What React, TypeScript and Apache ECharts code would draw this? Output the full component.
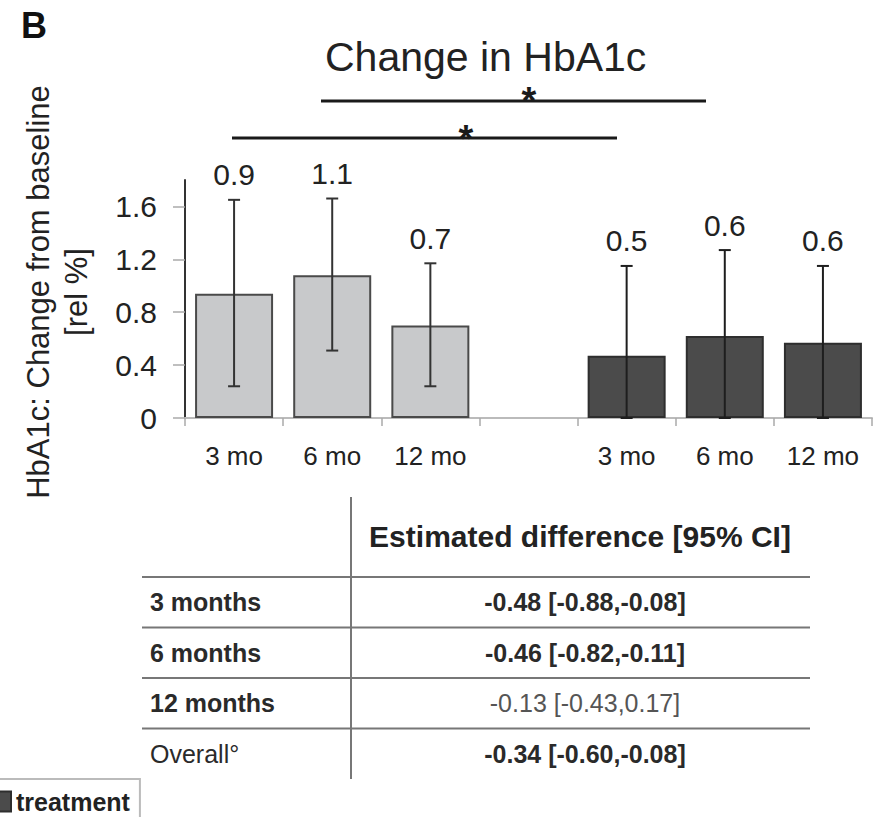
import React, { useEffect, useRef } from 'react';
import * as echarts from 'echarts';

const categories = ['3 mo', '6 mo', '12 mo', '', '3 mo', '6 mo', '12 mo'];
const controlMeans = [0.94, 1.08, 0.7];
const controlUpper = [1.65, 1.66, 1.17];
const controlLower = [0.24, 0.51, 0.24];
const treatmentMeans = [0.47, 0.62, 0.57];
const treatmentUpper = [1.15, 1.27, 1.15];
const treatmentLower = [0, 0, 0];
const yTicks = [0, 0.4, 0.8, 1.2, 1.6];
const chartTitle = 'Change in HbA1c';
const yNameLines = ['HbA1c: Change from baseline', '[rel %]'];
const panelLabel = 'B';
const significanceMarks = ['*', '*'];
const tableHeader = 'Estimated difference [95% CI]';
const tableRowLabels = ['3 months', '6 months', '12 months', 'Overall°'];
const tableValues = ['-0.48 [-0.88,-0.08]', '-0.46 [-0.82,-0.11]', '-0.13 [-0.43,0.17]', '-0.34 [-0.60,-0.08]'];
const tableSignificant = [true, true, false, true];
const tableRowLabelBold = [true, true, true, false];

const FONT = '"Liberation Sans", Arial, Helvetica, sans-serif';

export default function App() {
  const ref = useRef<HTMLDivElement>(null);

  useEffect(() => {
    if (!ref.current) return;
    const chart = echarts.init(ref.current, undefined, { renderer: 'svg' });

    const controlIdx = [0, 1, 2];
    const treatIdx = [4, 5, 6];
    const controlData: any[] = categories.map(() => '-');
    const treatData: any[] = categories.map(() => '-');
    controlIdx.forEach((ci, i) => (controlData[ci] = controlMeans[i]));
    treatIdx.forEach((ci, i) => (treatData[ci] = treatmentMeans[i]));

    const errData: any[] = [];
    controlIdx.forEach((ci, i) => errData.push([ci, controlLower[i], controlUpper[i], controlMeans[i], 0]));
    treatIdx.forEach((ci, i) => errData.push([ci, treatmentLower[i], treatmentUpper[i], treatmentMeans[i], 1]));

    // table geometry
    const tLeft = 142, tRight = 810, tVert = 351;
    const headerTop = 497, headerBottom = 577, rowH = 50.5;
    const graphics: any[] = [];
    graphics.push({
      type: 'text', x: 21, y: 25,
      style: { text: panelLabel, font: `bold 36px ${FONT}`, fill: '#111', align: 'left', verticalAlign: 'middle' },
    });
    graphics.push({
      type: 'text', x: 38, y: 292, rotation: Math.PI / 2,
      style: { text: yNameLines[0], font: `31px ${FONT}`, fill: '#222', align: 'center', verticalAlign: 'middle' },
    });
    graphics.push({
      type: 'text', x: 76, y: 292, rotation: Math.PI / 2,
      style: { text: yNameLines[1], font: `31px ${FONT}`, fill: '#222', align: 'center', verticalAlign: 'middle' },
    });
    // significance brackets
    graphics.push({ type: 'line', shape: { x1: 321, y1: 101, x2: 706, y2: 101 }, style: { stroke: '#1a1a1a', lineWidth: 3 } });
    graphics.push({ type: 'line', shape: { x1: 232, y1: 138, x2: 617, y2: 138 }, style: { stroke: '#1a1a1a', lineWidth: 3 } });
    graphics.push({
      type: 'text', x: 529, y: 101,
      style: { text: significanceMarks[0], font: `bold 38px ${FONT}`, fill: '#1a1a1a', align: 'center', verticalAlign: 'middle' },
    });
    graphics.push({
      type: 'text', x: 466, y: 139,
      style: { text: significanceMarks[1], font: `bold 38px ${FONT}`, fill: '#1a1a1a', align: 'center', verticalAlign: 'middle' },
    });
    // table
    graphics.push({ type: 'line', shape: { x1: tVert, y1: headerTop, x2: tVert, y2: headerBottom + rowH * 4 }, style: { stroke: '#777', lineWidth: 2 } });
    for (let i = 0; i < 4; i++) {
      const y = headerBottom + rowH * i;
      graphics.push({ type: 'line', shape: { x1: tLeft, y1: y, x2: tRight, y2: y }, style: { stroke: '#777', lineWidth: 2 } });
    }
    graphics.push({
      type: 'text', x: 580, y: 536,
      style: { text: tableHeader, font: `bold 30px ${FONT}`, fill: '#222', align: 'center', verticalAlign: 'middle' },
    });
    tableRowLabels.forEach((lab, i) => {
      const cy = headerBottom + rowH * i + rowH / 2;
      graphics.push({
        type: 'text', x: 150, y: cy,
        style: { text: lab, font: `${tableRowLabelBold[i] ? 'bold ' : ''}25px ${FONT}`, fill: '#2a2a2a', align: 'left', verticalAlign: 'middle' },
      });
      graphics.push({
        type: 'text', x: 585, y: cy,
        style: {
          text: tableValues[i],
          font: `${tableSignificant[i] ? 'bold ' : ''}25px ${FONT}`,
          fill: tableSignificant[i] ? '#2a2a2a' : '#555',
          align: 'center', verticalAlign: 'middle',
        },
      });
    });

    chart.setOption({
      animation: false,
      textStyle: { fontFamily: FONT },
      title: {
        text: chartTitle,
        left: 325,
        top: 36,
        padding: 0,
        textStyle: { fontSize: 41, fontWeight: 'normal', color: '#222', fontFamily: FONT },
      },
      legend: {
        data: ['treatment'],
        left: -20,
        top: 779,
        padding: [10, 10, 30, 10],
        itemWidth: 20,
        itemHeight: 20,
        icon: 'rect',
        borderColor: '#bbb',
        borderWidth: 2,
        textStyle: { fontSize: 25, fontWeight: 'bold', color: '#222', fontFamily: FONT },
      },
      grid: { left: 185, right: 9, top: 180, bottom: 399, containLabel: false },
      xAxis: {
        type: 'category',
        data: categories,
        axisLine: { lineStyle: { color: '#bbb', width: 2 } },
        axisTick: { show: true, length: 8, lineStyle: { color: '#aaa', width: 1.5 } },
        axisLabel: { fontSize: 26, color: '#222', margin: 25, fontFamily: FONT },
        splitLine: { show: false },
      },
      yAxis: {
        type: 'value',
        min: 0,
        max: 1.8,
        interval: 0.2,
        axisLine: { show: true, lineStyle: { color: '#333', width: 2 } },
        axisTick: { show: true, length: 12, lineStyle: { color: '#aaa', width: 1.5 }, customValues: yTicks },
        axisLabel: {
          customValues: yTicks,
          fontSize: 30,
          color: '#222',
          margin: 28,
          fontFamily: FONT,
          formatter: (v: number) => (v === 0 ? '0' : v.toFixed(1)),
        },
        splitLine: { show: false },
      },
      series: [
        {
          name: 'control',
          type: 'bar',
          data: controlData,
          barWidth: 78,
          barGap: '-100%',
          itemStyle: { color: '#c8c9cb', borderColor: '#4a4a4a', borderWidth: 2 },
        },
        {
          name: 'treatment',
          type: 'bar',
          data: treatData,
          barWidth: 78,
          barGap: '-100%',
          itemStyle: { color: '#4b4b4b', borderColor: '#2e2e2e', borderWidth: 2 },
        },
        {
          name: 'error',
          type: 'custom',
          z: 5,
          encode: { x: 0, y: [1, 2] },
          data: errData,
          renderItem: (params: any, api: any) => {
            const x = api.value(0);
            const lo = api.coord([x, api.value(1)]);
            const hi = api.coord([x, api.value(2)]);
            const mean = api.value(3);
            const dark = api.value(4) === 1;
            const cap = 6;
            const st = { stroke: dark ? '#1e1e1e' : '#333', lineWidth: 2 };
            return {
              type: 'group',
              children: [
                { type: 'line', shape: { x1: lo[0], y1: lo[1], x2: hi[0], y2: hi[1] }, style: st },
                { type: 'line', shape: { x1: hi[0] - cap, y1: hi[1], x2: hi[0] + cap, y2: hi[1] }, style: st },
                { type: 'line', shape: { x1: lo[0] - cap, y1: lo[1], x2: lo[0] + cap, y2: lo[1] }, style: st },
                {
                  type: 'text',
                  x: hi[0],
                  y: hi[1] - 25,
                  style: {
                    text: Number(mean).toFixed(1),
                    font: `30px ${FONT}`,
                    fill: '#222',
                    align: 'center',
                    verticalAlign: 'middle',
                  },
                },
              ],
            };
          },
        },
      ],
      graphic: graphics,
    });

    return () => chart.dispose();
  }, []);

  return <div ref={ref} style={{ position: 'absolute', left: 0, top: 0, width: 881, height: 817 }} />;
}
